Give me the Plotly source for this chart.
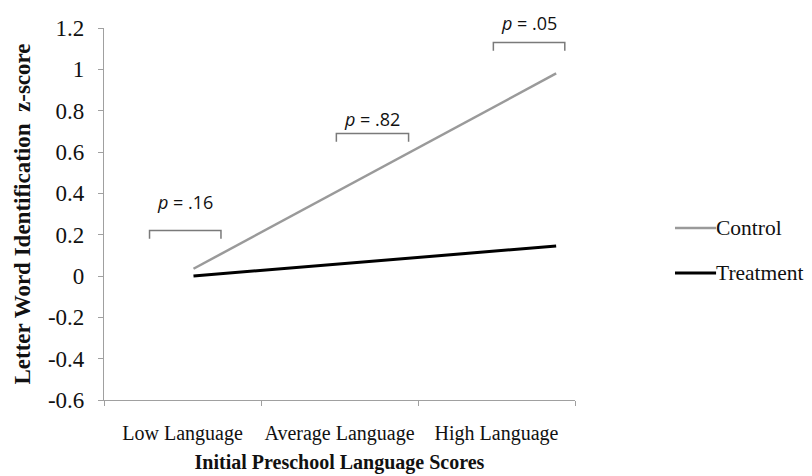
import plotly.graph_objects as go

categories = ["Low Language", "Average Language", "High Language"]
category_pos = [0.5, 1.5, 2.5]
line_x = [0.57, 2.88]
control = [0.035, 0.98]
treatment = [0.0, 0.145]

series_names = ["Control", "Treatment"]
series_colors = ["#9a9a9a", "#000000"]
series_widths = [2.5, 3]

y_ticks = [-0.6, -0.4, -0.2, 0, 0.2, 0.4, 0.6, 0.8, 1.0, 1.2]
y_ticktext = ["-0.6", "-0.4", "-0.2", "0", "0.2", "0.4", "0.6", "0.8", "1", "1.2"]
y_range = [-0.6, 1.2]

p_labels = ["<i>p</i> = .16", "<i>p</i> = .82", "<i>p</i> = .05"]
bracket_x0 = [0.29, 1.48, 2.48]
bracket_x1 = [0.745, 1.94, 2.935]
bracket_y = [0.22, 0.69, 1.13]
label_y = [0.36, 0.76, 1.225]

serif = "Liberation Serif"

fig = go.Figure()
for name, vals, col, w in zip(series_names, [control, treatment], series_colors, series_widths):
    fig.add_trace(go.Scatter(x=line_x, y=vals, mode="lines", name=name,
                             line=dict(color=col, width=w), showlegend=False))

for x0, x1, yb, yl, txt in zip(bracket_x0, bracket_x1, bracket_y, label_y, p_labels):
    fig.add_trace(go.Scatter(x=[x0, x0, x1, x1], y=[yb - 0.04, yb, yb, yb - 0.04],
                             mode="lines", line=dict(color="#7a7a7a", width=1.5),
                             showlegend=False, hoverinfo="skip", cliponaxis=False))
    fig.add_annotation(x=(x0 + x1) / 2, xref="x",
                       y=(yl - y_range[0]) / (y_range[1] - y_range[0]), yref="y domain",
                       xanchor="center", yanchor="middle",
                       text=txt, showarrow=False,
                       font=dict(family="Open Sans", size=18, color="#111"))

# custom legend (paper coordinates)
legend_y = [0.4624, 0.3414]
for name, col, w, ly in zip(series_names, series_colors, series_widths, legend_y):
    fig.add_shape(type="line", xref="paper", yref="paper", x0=1.2123, x1=1.2995,
                  y0=ly, y1=ly, line=dict(color=col, width=w))
    fig.add_annotation(x=1.2965, y=ly, xref="paper", yref="paper", xanchor="left",
                       yanchor="middle", text=name, showarrow=False, borderpad=0,
                       font=dict(family=serif, size=21.5, color="#111"))

fig.update_layout(
    width=804, height=468,
    margin=dict(l=96, r=237, t=20, b=76),
    paper_bgcolor="white", plot_bgcolor="white",
    font=dict(family=serif, size=20, color="#111"),
    showlegend=False,
    xaxis=dict(range=[0, 3], tickmode="array", tickvals=category_pos, ticktext=categories,
               ticks="", showgrid=False, zeroline=False, showline=True,
               linecolor="#a0a0a0", linewidth=1.2, automargin=False,
               ticklabelstandoff=15, tickfont=dict(family=serif, size=20, color="#111"),
               minor=dict(tickmode="array", tickvals=[0, 1, 2, 3], ticks="outside",
                          ticklen=5, tickcolor="#a0a0a0", showgrid=False),
               title=dict(text="<b>Initial Preschool Language Scores</b>", standoff=10,
                          font=dict(family=serif, size=20, color="#111"))),
    yaxis=dict(range=y_range, tickmode="array", tickvals=y_ticks, ticktext=y_ticktext,
               ticks="outside", ticklen=5, tickcolor="#a0a0a0",
               showgrid=False, zeroline=False, showline=True, automargin=False,
               linecolor="#a0a0a0", linewidth=1.2, ticklabelstandoff=9,
               tickfont=dict(family=serif, size=23, color="#111"),
               title=dict(text="<b>Letter Word Identification  z-score</b>", standoff=10,
                          font=dict(family=serif, size=23, color="#111"))),
)

fig.write_html("out.html")
